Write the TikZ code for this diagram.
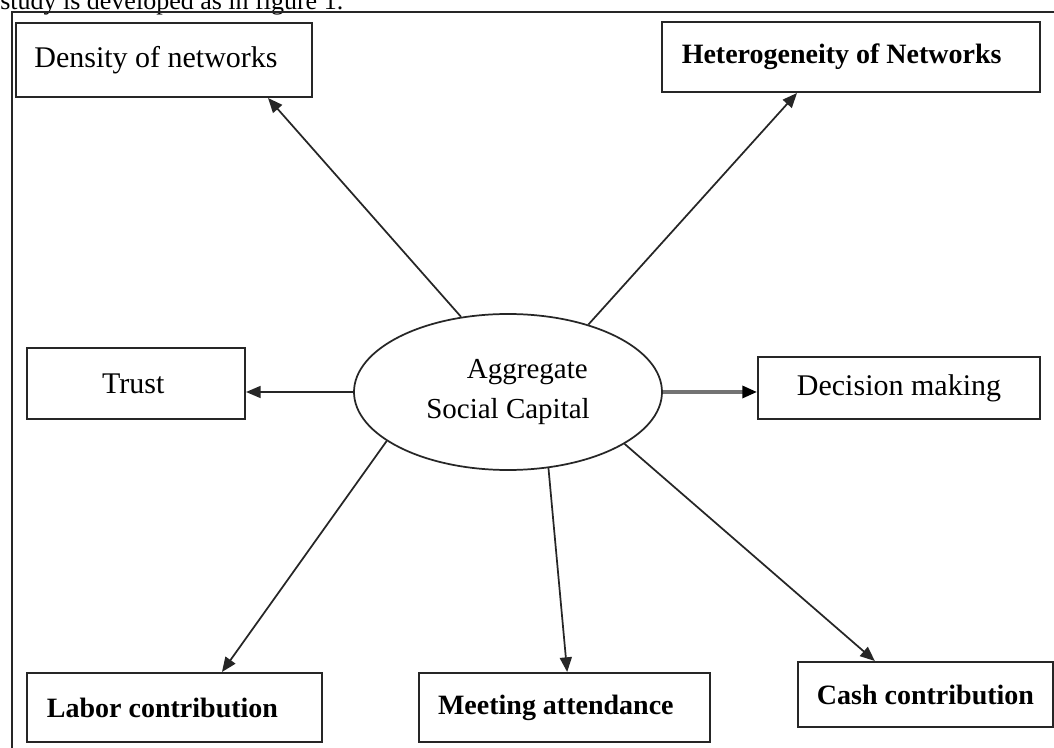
\documentclass[tikz,border=0pt]{standalone}
\usepackage{fontspec}
\setmainfont{Liberation Serif}
\usetikzlibrary{arrows.meta,shapes.geometric}
\begin{document}
\begin{tikzpicture}[x=0.75pt,y=-0.75pt,
  box/.style={draw=black!85, line width=1.5pt, inner sep=0pt},
  reg/.style={font=\fontsize{22.5}{27}\selectfont},
  bld/.style={font=\fontsize{21}{25}\selectfont\bfseries},
  conn/.style={draw=black!85, line width=1.3pt, -{Triangle[length=11pt,width=9pt]}},
  thickconn/.style={draw=black!55, line width=2.4pt, -{Triangle[length=11pt,width=9pt,fill=black,color=black]}}]
\useasboundingbox (0,0) rectangle (1054,748);
\clip (0,0) rectangle (1054,748);
\fill[white] (0,0) rectangle (1054,748);

% caption fragment at the top (cut off by the page edge, as in the source)
\node[anchor=base west, inner sep=0pt, font=\fontsize{19.5}{23}\selectfont] (cap) at (0,10) {study is developed as in figure 1.};

% frame
\draw[line width=1.5pt, black!85] (12,752) -- (12,12) -- (1058,12);

% boxes
\node[box, reg, minimum width=222pt, minimum height=55.5pt] (dens) at (164,60) {\kern-12pt Density of networks};
\node[box, bld, minimum width=283.5pt, minimum height=52.5pt] (het) at (851,57) {\kern-14pt Heterogeneity of Networks};
\node[box, reg, minimum width=163.5pt, minimum height=53.25pt] (trust) at (136,383.5) {\kern-4pt Trust};
\node[box, reg, minimum width=211.5pt, minimum height=46.5pt] (dec) at (899,388) {Decision making};
\node[box, bld, minimum width=221.25pt, minimum height=51.75pt] (labor) at (174.5,707.5) {\kern-18pt Labor contribution};
\node[box, bld, minimum width=218.25pt, minimum height=51.75pt] (meet) at (564.5,707.5) {\kern-13pt Meeting attendance};
\node[box, bld, minimum width=191.25pt, minimum height=48.75pt] (cash) at (925.5,694.5) {Cash contribution};

% central ellipse
\node[ellipse, draw=black!85, line width=1.3pt, inner sep=0pt, minimum width=231pt, minimum height=117pt,
      align=center, font=\fontsize{21.75}{30}\selectfont] (ell) at (508,392)
      {\hspace*{29pt}Aggregate\\Social Capital};

% connectors
\draw[conn] (ell.122.7) -- ([xshift=78pt]dens.south);
\draw[conn] (ell.40.4) -- ([xshift=-40.5pt]het.south);
\draw[conn] (ell.west) -- (ell.west -| trust.east);
\draw[thickconn] (ell.east) -- (ell.east -| dec.west);
\draw[conn] (ell.202.2) -- ([xshift=35.6pt]labor.north);
\draw[conn] (ell.298.6) -- ([xshift=2pt]meet.north);
\draw[conn] (ell.336.6) -- ([xshift=-38pt]cash.north);
\end{tikzpicture}
\end{document}
